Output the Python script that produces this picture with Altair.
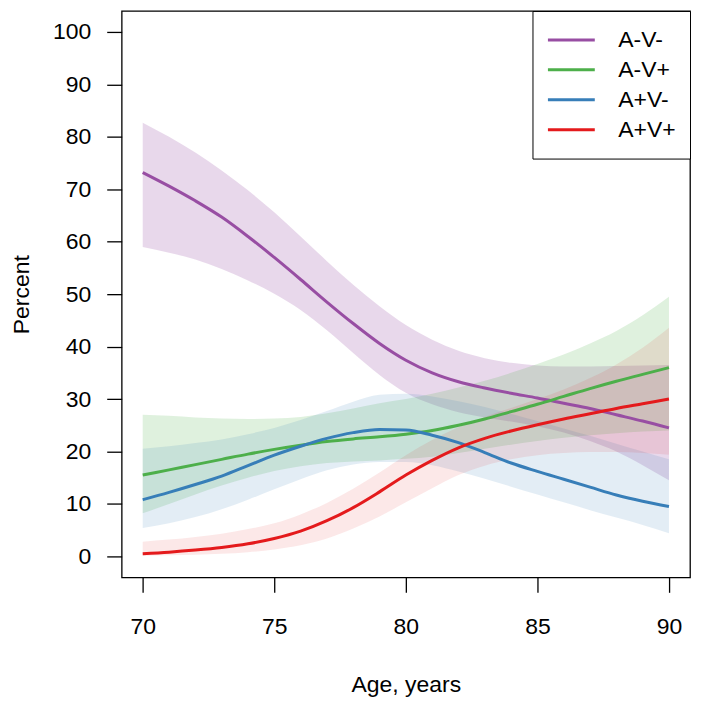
import altair as alt
import pandas as pd

ages = list(range(70, 91))
series = ["A-V-", "A-V+", "A+V-", "A+V+"]
colors = ["#984EA3", "#4DAF4A", "#377EB8", "#E41A1C"]
band_opacity = [0.22, 0.10, 0.12, 0.13]

pur = [73.2, 70.6, 67.8, 64.7, 61.0, 57.0, 52.8, 48.5, 44.4, 40.6, 37.4, 35.0, 33.3, 32.1, 31.1, 30.2, 29.2, 28.2, 27.0, 25.8, 24.5]
pur_hi = [82.7, 80.0, 77.0, 73.6, 69.8, 65.6, 61.0, 56.3, 51.8, 47.7, 44.1, 41.3, 39.2, 37.8, 36.9, 36.4, 36.2, 36.2, 36.3, 36.4, 36.5]
pur_lo = [59.0, 57.9, 56.6, 54.8, 52.6, 50.1, 47.0, 43.1, 38.8, 34.6, 31.2, 29.0, 27.5, 26.5, 25.7, 24.8, 23.6, 22.0, 20.0, 17.4, 14.5]

grn = [15.5, 16.5, 17.5, 18.5, 19.5, 20.4, 21.2, 21.9, 22.4, 22.8, 23.3, 24.0, 25.0, 26.2, 27.6, 29.0, 30.5, 32.0, 33.4, 34.7, 36.0]
grn_hi = [27.0, 26.8, 26.5, 26.3, 26.2, 26.3, 26.6, 27.3, 28.2, 29.2, 30.0, 31.0, 32.2, 33.5, 35.0, 36.7, 38.5, 40.6, 43.0, 46.0, 49.5]
grn_lo = [8.2, 10.0, 11.8, 13.5, 15.0, 16.3, 17.2, 17.8, 18.1, 18.3, 18.6, 19.0, 19.7, 20.5, 21.3, 22.0, 22.6, 23.1, 23.5, 23.8, 24.0]

blu = [10.8, 12.2, 13.7, 15.3, 17.3, 19.3, 21.0, 22.5, 23.6, 24.2, 24.1, 23.1, 21.7, 19.8, 17.8, 16.2, 14.7, 13.2, 11.7, 10.5, 9.5]
blu_hi = [20.5, 21.0, 21.6, 22.3, 23.3, 24.5, 26.0, 27.7, 29.5, 30.8, 31.0, 30.5, 29.6, 28.5, 27.2, 25.8, 24.4, 23.0, 21.5, 20.0, 18.5]
blu_lo = [5.4, 6.3, 7.5, 9.0, 10.8, 12.8, 14.7, 16.4, 17.5, 18.0, 18.0, 17.4, 16.2, 14.8, 13.3, 11.8, 10.3, 8.8, 7.4, 6.0, 4.4]

red = [0.5, 0.8, 1.2, 1.7, 2.4, 3.4, 4.8, 6.8, 9.3, 12.3, 15.5, 18.3, 20.7, 22.5, 23.9, 25.1, 26.2, 27.2, 28.2, 29.1, 30.0]
red_hi = [2.8, 3.2, 3.7, 4.3, 5.2, 6.3, 8.0, 10.2, 12.9, 16.0, 19.3, 22.2, 24.6, 26.6, 28.3, 30.0, 31.8, 34.0, 36.6, 39.8, 43.6]
red_lo = [0.1, 0.2, 0.3, 0.5, 0.8, 1.3, 2.1, 3.4, 5.3, 7.6, 10.3, 13.0, 15.5, 17.3, 18.5, 19.3, 19.7, 19.9, 19.9, 19.7, 19.4]

x_ticks = [70, 75, 80, 85, 90]
y_ticks = list(range(0, 101, 10))

mids = [pur, grn, blu, red]
his = [pur_hi, grn_hi, blu_hi, red_hi]
los = [pur_lo, grn_lo, blu_lo, red_lo]

rows = []
for s, m, h, l in zip(series, mids, his, los):
    for a, mv, hv, lv in zip(ages, m, h, l):
        rows.append({"age": a, "series": s, "mid": mv, "hi": hv, "lo": lv})
df = pd.DataFrame(rows)

FONT = "Liberation Sans"

xscale = alt.Scale(domain=[69.2, 90.8], nice=False, zero=False)
yscale = alt.Scale(domain=[-4, 104], nice=False, zero=False)
cscale = alt.Scale(domain=series, range=colors)

legend = alt.Legend(title=None, orient="top-right", offset=0,
                    symbolType="stroke", symbolSize=2209,
                    symbolStrokeWidth=3, symbolOpacity=1,
                    labelFontSize=23, labelFont=FONT,
                    labelColor="black", labelOffset=22,
                    clipHeight=30, rowPadding=0,
                    padding=14, strokeColor="black",
                    fillColor="white", cornerRadius=0)

base = alt.Chart(df)

bands = base.mark_area(interpolate="monotone").encode(
    x=alt.X("age:Q", scale=xscale),
    y=alt.Y("lo:Q", scale=yscale),
    y2="hi:Q",
    color=alt.Color("series:N", scale=cscale, legend=None),
    opacity=alt.Opacity("series:N", scale=alt.Scale(domain=series, range=band_opacity), legend=None),
)

lines = base.mark_line(interpolate="monotone", strokeWidth=3).encode(
    x=alt.X("age:Q", scale=xscale,
            axis=alt.Axis(values=x_ticks, title="Age, years", titlePadding=35)),
    y=alt.Y("mid:Q", scale=yscale,
            axis=alt.Axis(values=y_ticks, title="Percent", titlePadding=19)),
    color=alt.Color("series:N", scale=cscale, legend=legend),
    detail="series:N",
)

chart = alt.layer(bands, lines).resolve_legend(
    color="independent", opacity="independent"
).properties(
    width=570, height=568,
    autosize=alt.AutoSizeParams(type="none"),
    padding={"left": 114, "top": 2, "right": 5, "bottom": 120},
).configure_view(
    stroke="black", strokeWidth=1.3
).configure_axis(
    domain=False, grid=False,
    tickColor="black", tickSize=15, tickWidth=1.3,
    labelFont=FONT, labelFontSize=23, labelColor="black", labelPadding=16,
    titleFont=FONT, titleFontSize=23, titleColor="black", titleFontWeight="normal",
).configure_axisX(labelPadding=23)

chart.save("out.html", embed_options={"renderer": "svg", "actions": False})
